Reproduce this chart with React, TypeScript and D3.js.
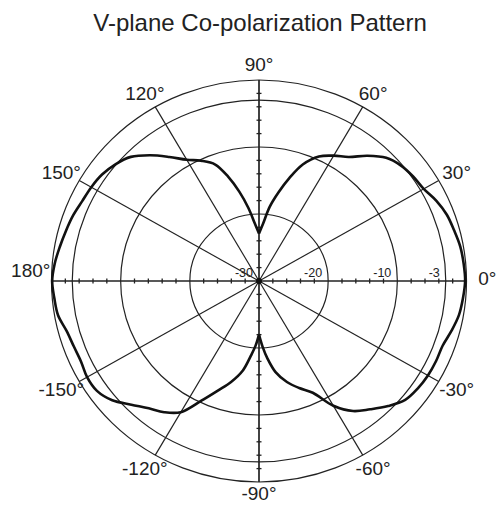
import React, { useRef, useEffect } from 'react';
import * as d3 from 'd3';

// measured pattern, angle in degrees -> relative gain in dB
const angles = [
  -180, -175, -170, -165, -160, -155, -150, -145, -140, -135, -130, -125, -120, -115, -110, -105, -100, -96, -93,
  -90, -87, -84, -80, -75, -70, -65, -60, -55, -50, -45, -40, -35, -30, -25, -20, -15, -10, -5,
  0, 5, 10, 15, 20, 25, 30, 35, 40, 45, 50, 55, 60, 65, 70, 74, 78, 82, 86,
  90, 94, 98, 102, 106, 110, 115, 120, 125, 130, 135, 140, 145, 150, 155, 160, 165, 170, 175,
];
const gainDb = [
  -0.1, -0.3, -0.5, -1.2, -1.5, -1.6, -1.3, -1.4, -2.3, -3.9, -5.2, -6.1, -7.4, -10.3, -12.6, -14.4, -16.4, -18.8, -20.3,
  -22, -20.2, -18.4, -16.2, -14.4, -13.0, -11.6, -8.5, -6.3, -5.0, -3.6, -2.4, -2.0, -1.8, -1.75, -1.75, -1.2, -0.65, -0.4,
  -0.2, -0.3, -0.45, -0.8, -1.1, -1.7, -2.5, -2.8, -3.2, -4.0, -5.6, -7.4, -8.4, -9.5, -11.5, -14.0, -16.5, -18.8, -21.4,
  -22.9, -21.4, -19.0, -16.4, -13.8, -11.5, -10.2, -9.1, -7.4, -5.5, -3.8, -2.9, -2.3, -2.0, -1.8, -1.4, -1.1, -0.75, -0.35,
];

const ringLevels = [-20, -10, -3, 0];
const ringLabels = [-30, -20, -10, -3];
const spokeAngles = [0, 30, 60, 90, 120, 150, 180, 210, 240, 270, 300, 330];
const angleLabels = [0, 30, 60, 90, 120, 150, 180, -150, -120, -90, -60, -30];
const axisTicks = [-28, -26, -24, -22, -18, -16, -14, -12, -8, -6, -4, -2];

const font = 'Liberation Sans, Arial, Helvetica, sans-serif';

const App = () => {
  const svgRef = useRef<SVGSVGElement>(null);

  useEffect(() => {
    const cx = 259;
    const cy = 281;
    const rx = 207.5;
    const ry = 201;

    const svg = d3.select(svgRef.current);
    svg.selectAll('*').remove();

    const r = d3.scaleLinear().domain([-30, 0]).range([0, 1]);
    const rad = (deg: number) => (deg * Math.PI) / 180;
    const px = (deg: number, db: number) => cx + rx * r(db) * Math.cos(rad(deg));
    const py = (deg: number, db: number) => cy - ry * r(db) * Math.sin(rad(deg));

    // title
    svg.append('text')
      .attr('x', 260)
      .attr('y', 31)
      .attr('text-anchor', 'middle')
      .attr('font-family', font)
      .attr('font-size', 24)
      .attr('fill', '#222')
      .text('V-plane Co-polarization Pattern');

    const grid = svg.append('g').attr('stroke', '#222').attr('fill', 'none');

    // circles
    grid.selectAll('.ring')
      .data(ringLevels)
      .enter()
      .append('ellipse')
      .attr('class', 'ring')
      .attr('cx', cx)
      .attr('cy', cy)
      .attr('rx', d => rx * r(d))
      .attr('ry', d => ry * r(d))
      .attr('stroke-width', 1.2);

    // spokes
    grid.selectAll('.spoke')
      .data(spokeAngles)
      .enter()
      .append('line')
      .attr('class', 'spoke')
      .attr('x1', cx)
      .attr('y1', cy)
      .attr('x2', d => px(d, 0))
      .attr('y2', d => py(d, 0))
      .attr('stroke-width', d => (d % 90 === 0 ? 1.7 : 1.2));

    // small ticks on the main axes
    const tickData: { a: number; db: number }[] = [];
    [0, 90, 180, 270].forEach(a => axisTicks.forEach(db => tickData.push({ a, db })));
    grid.selectAll('.tick')
      .data(tickData)
      .enter()
      .append('line')
      .attr('class', 'tick')
      .attr('x1', d => px(d.a, d.db) - (d.a % 180 === 0 ? 0 : 2.5))
      .attr('x2', d => px(d.a, d.db) + (d.a % 180 === 0 ? 0 : 2.5))
      .attr('y1', d => py(d.a, d.db) - (d.a % 180 === 0 ? 2.5 : 0))
      .attr('y2', d => py(d.a, d.db) + (d.a % 180 === 0 ? 2.5 : 0))
      .attr('stroke-width', 1.3);

    svg.append('circle')
      .attr('cx', cx)
      .attr('cy', cy)
      .attr('r', 3)
      .attr('fill', '#111');

    // dB labels
    svg.selectAll('.dblabel')
      .data(ringLabels)
      .enter()
      .append('text')
      .attr('class', 'dblabel')
      .attr('x', d => px(0, d) - 6)
      .attr('y', cy - 4)
      .attr('text-anchor', 'end')
      .attr('font-family', font)
      .attr('font-size', 12.5)
      .attr('fill', '#222')
      .text(d => `${d}`);

    // angle labels (a few sit slightly off the common radius in the original)
    const nudgeY = (d: number) => (d === 180 ? -11 : d === 0 ? -3 : d === -90 ? -4 : 0);
    svg.selectAll('.alabel')
      .data(angleLabels)
      .enter()
      .append('text')
      .attr('class', 'alabel')
      .attr('x', d => cx + rx * 1.1 * Math.cos(rad(d)))
      .attr('y', d => cy - ry * 1.078 * Math.sin(rad(d)) + nudgeY(d))
      .attr('dy', '0.35em')
      .attr('text-anchor', 'middle')
      .attr('font-family', font)
      .attr('font-size', 19)
      .attr('fill', '#222')
      .text(d => `${d}°`);

    // pattern, split at the two nulls so the cusps stay sharp
    const pts = angles.map((a, i) => ({ a, db: gainDb[i] }));
    const right = pts.filter(p => p.a >= -90 && p.a <= 90);
    const left = pts
      .filter(p => p.a >= 90 || p.a <= -90)
      .map(p => ({ a: p.a < 0 ? p.a + 360 : p.a, db: p.db }))
      .sort((p, q) => p.a - q.a);

    const line = d3.line<{ a: number; db: number }>()
      .x(d => px(d.a, d.db))
      .y(d => py(d.a, d.db))
      .curve(d3.curveCatmullRom.alpha(0.5));

    [right, left].forEach(seg => {
      svg.append('path')
        .datum(seg)
        .attr('d', line)
        .attr('fill', 'none')
        .attr('stroke', '#111')
        .attr('stroke-width', 2.6)
        .attr('stroke-linejoin', 'round');
    });
  }, []);

  return (
    <svg
      ref={svgRef}
      width={500}
      height={505}
      style={{ position: 'absolute', left: 0, top: 0, background: '#fff' }}
    />
  );
};

export default App;
